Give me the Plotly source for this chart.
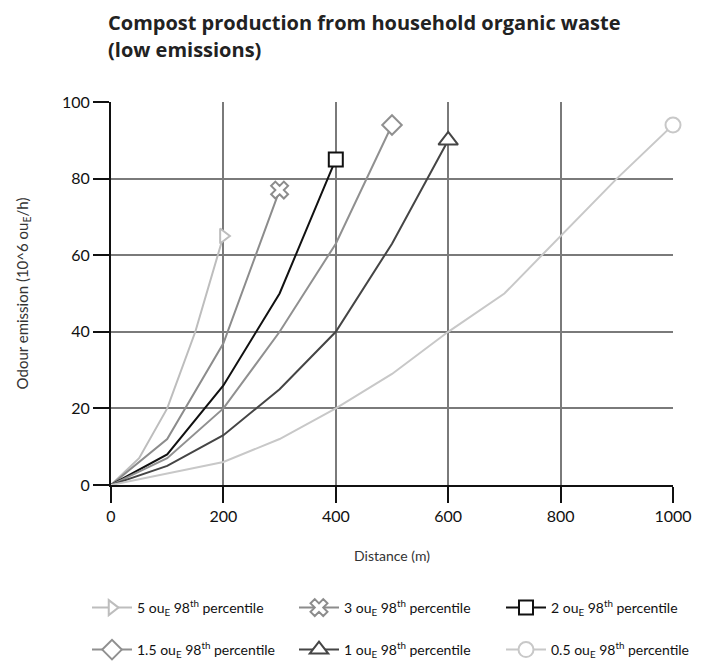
import plotly.graph_objects as go

# Data
x5 = [0, 50, 100, 150, 200]
y5 = [0, 7, 20, 40, 65]
x3 = [0, 100, 200, 300]
y3 = [0, 12, 37, 77]
x2 = [0, 100, 200, 300, 400]
y2 = [0, 8, 26, 50, 85]
x15 = [0, 100, 200, 300, 400, 500]
y15 = [0, 7, 20, 40, 63, 94]
x1 = [0, 100, 200, 300, 400, 500, 600]
y1 = [0, 5, 13, 25, 40, 63, 90]
x05 = [0, 100, 200, 300, 400, 500, 600, 700, 800, 900, 1000]
y05 = [0, 3, 6, 12, 20, 29, 40, 50, 65, 80, 94]

names = ["5 ou<sub>E</sub> 98<sup>th</sup> percentile",
         "3 ou<sub>E</sub> 98<sup>th</sup> percentile",
         "2 ou<sub>E</sub> 98<sup>th</sup> percentile",
         "1.5 ou<sub>E</sub> 98<sup>th</sup> percentile",
         "1 ou<sub>E</sub> 98<sup>th</sup> percentile",
         "0.5 ou<sub>E</sub> 98<sup>th</sup> percentile"]
title_lines = ["Compost production from household organic waste", "(low emissions)"]

series = [(x5, y5), (x3, y3), (x2, y2), (x15, y15), (x1, y1), (x05, y05)]
colors = ["#bdbdbd", "#8c8c8c", "#111111", "#909090", "#454545", "#c8c8c8"]
symbols = ["triangle-right", "x", "square", "diamond", "triangle-up", "circle"]
sizes = [13, 15, 14, 15, 17, 15]
legend_ids = ["legend", "legend", "legend", "legend2", "legend2", "legend2"]

fig = go.Figure()
for (xs, ys), c in zip(series, colors):
    fig.add_trace(go.Scatter(
        x=xs, y=ys, mode="lines", showlegend=False,
        line=dict(color=c, width=2), hoverinfo="skip",
    ))
for (xs, ys), nm, c, s, sz, lg in zip(series, names, colors, symbols, sizes, legend_ids):
    fig.add_trace(go.Scatter(
        x=xs[-1:], y=ys[-1:], name=nm, mode="lines+markers", cliponaxis=False,
        legend=lg,
        line=dict(color=c, width=2),
        marker=dict(symbol=s, size=sz, color="white", line=dict(color=c, width=2)),
    ))

legend_common = dict(orientation="h", xanchor="left", yanchor="middle",
                     entrywidth=152, entrywidthmode="pixels",
                     font=dict(size=14, color="#111"), itemwidth=40,
                     bgcolor="rgba(0,0,0,0)")

fig.update_layout(
    width=710, height=662,
    margin=dict(l=111, r=37, t=102, b=177, autoexpand=False),
    paper_bgcolor="white", plot_bgcolor="white",
    font=dict(family="Lato", size=14, color="#111"),
    showlegend=True,
    legend=dict(x=(87 - 111) / 562, y=(485 - 608) / 383, **legend_common),
    legend2=dict(x=(87 - 111) / 562, y=(485 - 650) / 383, **legend_common),
)
fig.add_annotation(text="<b>" + title_lines[0] + "</b>", xref="paper", yref="paper",
                   x=(106 - 111) / 562, xanchor="left", y=1 + (102 - 22) / 383, yanchor="middle",
                   showarrow=False, font=dict(family="Open Sans", size=20, color="#222"))
fig.add_annotation(text="<b>" + title_lines[1] + "</b>", xref="paper", yref="paper",
                   x=(106 - 111) / 562, xanchor="left", y=1 + (102 - 50) / 383, yanchor="middle",
                   showarrow=False, font=dict(family="Open Sans", size=20, color="#222"))

fig.update_xaxes(range=[0, 1000], tickvals=[0, 200, 400, 600, 800, 1000],
                 showgrid=True, gridcolor="#7a7a7a", gridwidth=1.5,
                 showline=True, linecolor="#111", linewidth=2,
                 ticks="outside", ticklen=16, tickcolor="#111", tickwidth=1.5,
                 tickfont=dict(size=16), ticklabelstandoff=0, zeroline=False,
                 title=dict(text="Distance (m)", font=dict(size=14, color="#333"), standoff=27))
fig.update_yaxes(range=[0, 100], tickvals=[0, 20, 40, 60, 80, 100],
                 showgrid=True, gridcolor="#7a7a7a", gridwidth=1.5,
                 showline=True, linecolor="#111", linewidth=2,
                 ticks="outside", ticklen=16, tickcolor="#111", tickwidth=1.5,
                 tickfont=dict(size=16), zeroline=False,
                 title=dict(text="Odour emission (10^6 ou<sub>E</sub>/h)",
                            font=dict(size=15, color="#333"), standoff=30))

fig.write_html("out.html")
